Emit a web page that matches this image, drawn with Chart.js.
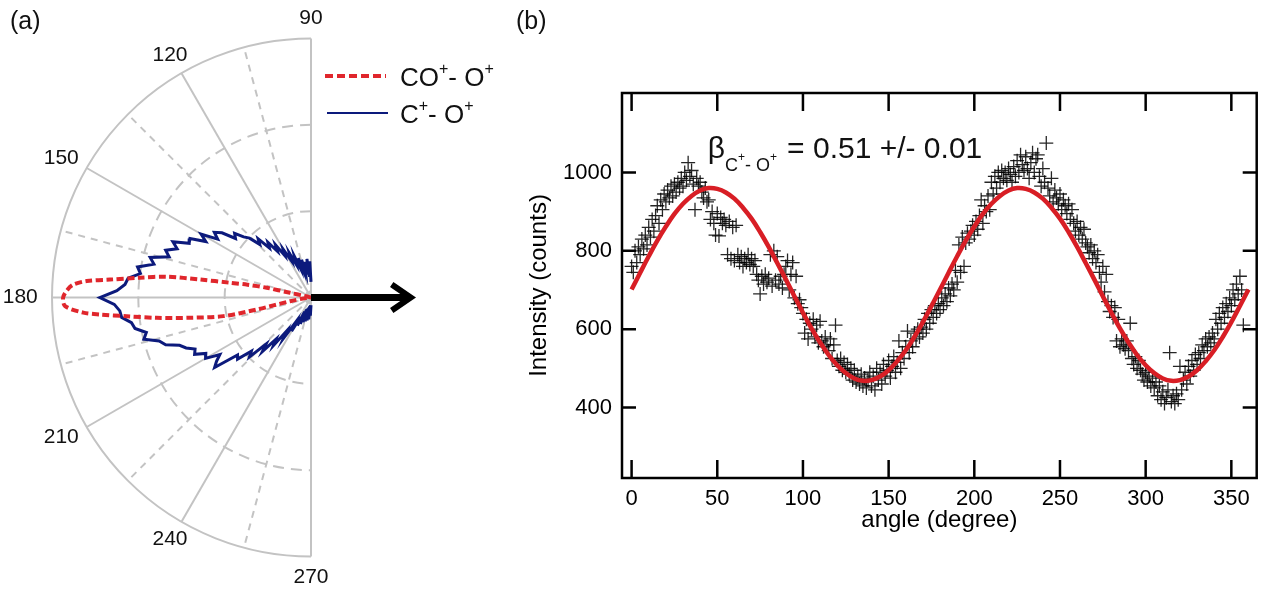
<!DOCTYPE html>
<html>
<head>
<meta charset="utf-8">
<script src="https://cdn.jsdelivr.net/npm/chart.js@4.4.1/dist/chart.umd.min.js"></script>
<style>
  html, body { margin: 0; padding: 0; background: #fff; }
  body { width: 1265px; height: 590px; position: relative; overflow: hidden; font-family: 'Liberation Sans', Arial, sans-serif; }
  #polar { position: absolute; left: 0; top: 0; }
  #scan { position: absolute; left: 505px; top: 0; }
  .tag { position: absolute; font-size: 25px; color: #111; line-height: 1; }
</style>
</head>
<body>
<canvas id="polar" width="505" height="590"></canvas>
<canvas id="scan" width="760" height="590"></canvas>
<div class="tag" style="left:10px;top:8px">(a)</div>
<div class="tag" style="left:516px;top:8px">(b)</div>
<script>
// ---- (a) polar distributions, angle in degrees, radius normalised to outer ring ----
const blueStart = 90, blueStep = 2
const blueR = [
  0.06, 0.14, 0.08, 0.15, 0.09, 0.14, 0.10, 0.15, 0.11, 0.16,
  0.12, 0.17, 0.14, 0.19, 0.16, 0.215, 0.19, 0.245, 0.22, 0.27,
  0.25, 0.305, 0.285, 0.33, 0.35, 0.385, 0.37, 0.425, 0.45, 0.425,
  0.49, 0.46, 0.52, 0.515, 0.575, 0.55, 0.59, 0.57, 0.64, 0.62,
  0.68, 0.665, 0.71, 0.72, 0.75, 0.815, 0.76, 0.74, 0.735, 0.70,
  0.69, 0.65, 0.665, 0.61, 0.59, 0.54, 0.52, 0.49, 0.50, 0.46,
  0.47, 0.415, 0.44, 0.46, 0.36, 0.37, 0.31, 0.33, 0.25, 0.28,
  0.21, 0.235, 0.16, 0.19, 0.115, 0.15, 0.085, 0.12, 0.06, 0.11,
  0.05, 0.10, 0.045, 0.095, 0.04, 0.09, 0.035, 0.085, 0.03, 0.07,
  0.03
]
const redAngles = [160, 166, 167.4, 167.6, 168.6, 169.7, 170.8, 171.8, 173.4, 174.9, 175.8, 176.9, 178.1,
  180, 182, 183.8, 184.6, 185.8, 187.5, 189.5, 192, 192.5, 190, 186, 180]
const redR = [0, 0.02, 0.083, 0.175, 0.25, 0.318, 0.434, 0.563, 0.665, 0.779, 0.868, 0.919, 0.94,
  0.957, 0.95, 0.881, 0.817, 0.715, 0.601, 0.474, 0.346, 0.215, 0.082, 0.02, 0]
const ringLevels = [1 / 3, 2 / 3, 1]
const spokeAngles = [90, 105, 120, 135, 150, 165, 180, 195, 210, 225, 240, 255, 270]
const angleLabels = [90, 120, 150, 180, 210, 240, 270]

// ---- (b) angular scan ----
const scanStart = 0, scanStep = 1
const scanCounts = [
  760, 745, 800, 770, 810, 790, 830, 805, 840, 815,
  860, 835, 880, 850, 890, 915, 870, 930, 905, 945,
  925, 955, 935, 965, 940, 970, 950, 975, 960, 985,
  965, 1000, 980, 1025, 990, 1005, 970, 905, 985, 965,
  975, 950, 935, 960, 925, 930, 880, 900, 870, 840,
  895, 838, 885, 870, 880, 865, 790, 875, 780, 860,
  775, 865, 790, 770, 785, 760, 780, 770, 790, 765,
  780, 760, 775, 740, 725, 690, 735, 715, 740, 720,
  730, 790, 710, 800, 725, 785, 715, 735, 705, 740,
  760, 775, 700, 740, 770, 680, 735, 665, 675, 655,
  640, 590, 625, 575, 615, 600, 625, 580, 610, 565,
  620, 570, 555, 580, 560, 545, 575, 525, 560,
  610, 520, 505, 525, 495, 515, 490, 510, 485, 500,
  470, 495, 465, 480, 460, 485, 455, 475, 450, 470,
  490, 455, 480, 445, 500, 470, 490, 460, 510, 480,
  495, 520, 475, 505, 530, 490, 515, 570, 500, 540,
  525, 555, 595, 540, 570, 555, 590, 575, 600, 580,
  605, 590, 625, 600, 640, 615, 650, 630, 660, 640,
  665, 650, 680, 660, 690, 670, 705, 685, 715, 700,
  750, 720, 815, 745, 835, 760, 820, 845, 830, 850,
  865, 840, 875, 855, 890, 930, 870, 915, 900, 940,
  905, 975, 945, 990, 960, 1000, 975, 1005, 985, 1000,
  980, 1010, 995, 975, 1015, 990, 1030, 1000, 1045, 1020,
  1005, 1040, 1010, 985, 1025, 1050, 1000, 1035, 1045,
  990, 965, 1010, 975, 1075, 960, 940, 985, 925, 955,
  935, 920, 945, 905, 930, 915, 895, 920, 880, 905,
  870, 850, 875, 840, 860, 830, 855, 820, 810, 795,
  815, 780, 800, 770, 790, 745, 720, 760, 695, 740,
  670, 645, 660, 630, 655, 570, 625, 555, 575, 560,
  550, 570, 545, 615, 525, 510, 530, 500, 520, 495,
  485, 470, 490, 465, 480, 455, 475, 450, 465, 430,
  455, 420, 440, 410, 425, 445, 540, 415, 430, 410,
  435, 420, 505, 445, 470, 490, 460, 505, 480, 520,
  495, 535, 510, 540, 525, 560, 545, 575, 555, 580,
  565, 590, 575, 625, 600, 640, 615, 655, 630, 665,
  645, 680, 660, 700, 675, 715, 690, 735, 700, 610
]
const fitAngles = [
  0, 5, 10, 15, 20, 25, 30, 35, 40, 45, 50, 55, 60, 65, 70, 75, 80, 85, 90,
  95, 100, 105, 110, 115, 120, 125, 130, 135, 140, 145, 150, 155, 160, 165, 170, 175, 180,
  185, 190, 195, 200, 205, 210, 215, 220, 225, 230, 235, 240, 245, 250, 255, 260, 265, 270,
  275, 280, 285, 290, 295, 300, 305, 310, 315, 320, 325, 330, 335, 340, 345, 350, 355, 360
]
const fitCounts = [
  701, 744, 786, 826, 862, 894, 920, 940, 954, 960, 958, 949, 933, 910, 882, 848, 810, 769, 727,
  684, 642, 602, 566, 534, 508, 488, 474, 468, 470, 479, 495, 518, 546, 580, 618, 659, 701,
  744, 786, 826, 862, 894, 920, 940, 954, 960, 958, 949, 933, 910, 882, 848, 810, 769, 727,
  684, 642, 602, 566, 534, 508, 488, 474, 468, 470, 479, 495, 518, 546, 580, 618, 659, 701
]
const xTicks = [0, 50, 100, 150, 200, 250, 300, 350]
const yTicks = [400, 600, 800, 1000]

Chart.defaults.font.family = "'Liberation Sans', Arial, sans-serif"
Chart.defaults.color = '#000'

const toXY = (deg, r) => ({
  x: r * Math.cos(deg * Math.PI / 180),
  y: r * Math.sin(deg * Math.PI / 180)
})

// draw a run of text pieces with sub/superscripts
function drawRuns(ctx, x, y, runs) {
  runs.forEach(run => {
    ctx.font = run.size + "px 'Liberation Sans', Arial, sans-serif"
    ctx.fillText(run.t, x, y + (run.dy || 0))
    x += ctx.measureText(run.t).width + (run.gap || 0)
  })
}

// ---------- panel (a) ----------
const polarR = 259
const polarDecor = {
  id: 'polarDecor',
  beforeDatasetsDraw(chart) {
    const { ctx, scales: { x, y } } = chart
    const cx = x.getPixelForValue(0), cy = y.getPixelForValue(0)
    const R = x.getPixelForValue(1) - cx
    ctx.save()
    ctx.strokeStyle = '#c3c3c3'
    ctx.lineWidth = 2
    ringLevels.forEach(k => {
      ctx.setLineDash(k < 1 ? [11, 7] : [])
      ctx.beginPath()
      ctx.arc(cx, cy, R * k, -Math.PI / 2, Math.PI / 2, true)
      ctx.stroke()
    })
    spokeAngles.forEach(a => {
      const rad = a * Math.PI / 180
      ctx.setLineDash(a % 30 ? [7, 6] : [])
      ctx.beginPath()
      ctx.moveTo(cx, cy)
      ctx.lineTo(cx + R * Math.cos(rad), cy - R * Math.sin(rad))
      ctx.stroke()
    })
    ctx.restore()
  },
  afterDatasetsDraw(chart) {
    const { ctx, scales: { x, y } } = chart
    const cx = x.getPixelForValue(0), cy = y.getPixelForValue(0)
    const R = x.getPixelForValue(1) - cx
    ctx.save()
    // angle labels
    ctx.fillStyle = '#111'
    ctx.font = "21px 'Liberation Sans', Arial, sans-serif"
    ctx.textAlign = 'center'
    ctx.textBaseline = 'middle'
    angleLabels.forEach(a => {
      const rad = a * Math.PI / 180
      const c = Math.cos(rad), s = Math.sin(rad)
      const w = ctx.measureText(String(a)).width
      const lx = cx + R * 1.055 * c + (w / 2) * c * Math.abs(c)
      const ly = cy - R * 1.055 * s - 6 * s
      ctx.fillText(String(a), lx, ly)
    })
    // polarisation arrow
    const tip = x.getPixelForValue(0.385)
    ctx.strokeStyle = '#000'
    ctx.lineWidth = 7
    ctx.beginPath()
    ctx.moveTo(cx, cy)
    ctx.lineTo(tip - 3, cy)
    ctx.stroke()
    ctx.lineWidth = 6
    ctx.lineJoin = 'miter'
    ctx.beginPath()
    ctx.moveTo(tip - 19, cy - 13)
    ctx.lineTo(tip, cy)
    ctx.lineTo(tip - 19, cy + 13)
    ctx.stroke()
    // legend
    ctx.textAlign = 'left'
    ctx.textBaseline = 'alphabetic'
    ctx.lineWidth = 4
    ctx.strokeStyle = '#e0262c'
    ctx.setLineDash([8, 4])
    ctx.beginPath()
    ctx.moveTo(325, 76)
    ctx.lineTo(386, 76)
    ctx.stroke()
    ctx.setLineDash([])
    ctx.lineWidth = 2
    ctx.strokeStyle = '#0c1a7c'
    ctx.beginPath()
    ctx.moveTo(327, 113)
    ctx.lineTo(388, 113)
    ctx.stroke()
    ctx.fillStyle = '#111'
    drawRuns(ctx, 400, 86, [
      { t: 'CO', size: 26 }, { t: '+', size: 16, dy: -12 }, { t: '- O', size: 26 }, { t: '+', size: 16, dy: -12 }
    ])
    drawRuns(ctx, 400, 123, [
      { t: 'C', size: 26 }, { t: '+', size: 16, dy: -12 }, { t: '- O', size: 26 }, { t: '+', size: 16, dy: -12 }
    ])
    ctx.restore()
  }
}

const polarCanvas = document.getElementById('polar')
new Chart(polarCanvas, {
  type: 'scatter',
  data: {
    datasets: [
      {
        label: 'CO+- O+',
        data: redAngles.map((a, i) => toXY(a, redR[i])),
        showLine: true,
        borderColor: '#e0262c',
        borderWidth: 4,
        borderDash: [7, 3.5],
        pointRadius: 0,
        tension: 0.3
      },
      {
        label: 'C+- O+',
        data: blueR.map((r, i) => toXY(blueStart + i * blueStep, r)),
        showLine: true,
        borderColor: '#0c1a7c',
        borderWidth: 3,
        pointRadius: 0,
        tension: 0
      }
    ]
  },
  options: {
    responsive: false,
    animation: false,
    layout: { padding: 0 },
    plugins: { legend: { display: false }, tooltip: { enabled: false } },
    scales: {
      x: { type: 'linear', display: false, min: -311 / polarR, max: (505 - 311) / polarR },
      y: { type: 'linear', display: false, min: -(590 - 297.5) / polarR, max: 297.5 / polarR }
    }
  },
  plugins: [polarDecor]
})

// ---------- panel (b) ----------
const frameTicks = {
  id: 'frameTicks',
  afterDraw(chart) {
    const { ctx, chartArea: a, scales: { x, y } } = chart
    ctx.save()
    ctx.strokeStyle = '#000'
    ctx.lineWidth = 2.5
    ctx.strokeRect(a.left, a.top, a.right - a.left, a.bottom - a.top)
    ctx.beginPath()
    x.ticks.forEach(t => {
      const px = x.getPixelForValue(t.value)
      ctx.moveTo(px, a.bottom); ctx.lineTo(px, a.bottom - 18)
      ctx.moveTo(px, a.top); ctx.lineTo(px, a.top + 18)
    })
    y.ticks.forEach(t => {
      const py = y.getPixelForValue(t.value)
      ctx.moveTo(a.left, py); ctx.lineTo(a.left + 14, py)
      ctx.moveTo(a.right, py); ctx.lineTo(a.right - 14, py)
    })
    ctx.stroke()
    // beta annotation
    ctx.fillStyle = '#111'
    const bx = x.getPixelForValue(44.5), by = y.getPixelForValue(1036)
    drawRuns(ctx, bx, by, [
      { t: '\u03b2', size: 30 },
      { t: 'C', size: 18, dy: 13 },
      { t: '+', size: 12, dy: 3 },
      { t: '- O', size: 18, dy: 13 },
      { t: '+', size: 12, dy: 3, gap: 10 },
      { t: '= 0.51 +/- 0.01', size: 30 }
    ])
    ctx.restore()
  }
}

new Chart(document.getElementById('scan'), {
  type: 'scatter',
  data: {
    datasets: [
      {
        label: 'fit',
        data: fitAngles.map((a, i) => ({ x: a, y: fitCounts[i] })),
        showLine: true,
        borderColor: '#d81e25',
        borderWidth: 4.5,
        pointRadius: 0,
        tension: 0.4
      },
      {
        label: 'C+- O+',
        data: scanCounts.map((v, i) => ({ x: scanStart + i * scanStep, y: v })),
        pointStyle: 'cross',
        pointRadius: 7,
        borderColor: 'rgba(0,0,0,0.85)',
        borderWidth: 1.3,
        showLine: false
      }
    ]
  },
  options: {
    responsive: false,
    animation: false,
    layout: { padding: { top: 93, right: 3, left: 0, bottom: 0 } },
    plugins: { legend: { display: false }, tooltip: { enabled: false } },
    scales: {
      x: {
        type: 'linear',
        min: -5.6,
        max: 364.8,
        afterFit: s => { s.height = 112 },
        afterBuildTicks: s => { s.ticks = xTicks.map(v => ({ value: v })) },
        grid: { display: false, drawTicks: false },
        border: { display: false },
        ticks: { padding: 8, font: { size: 22 }, maxRotation: 0, autoSkip: false, callback: v => String(v) },
        title: { display: true, text: 'angle (degree)', font: { size: 24 }, padding: { top: 0, bottom: 55 } }
      },
      y: {
        type: 'linear',
        min: 220,
        max: 1202.8,
        afterFit: s => { s.width = 117 },
        afterBuildTicks: s => { s.ticks = yTicks.map(v => ({ value: v })) },
        grid: { display: false, drawTicks: false },
        border: { display: false },
        ticks: { padding: 10, font: { size: 22 }, autoSkip: false, callback: v => String(v) },
        title: { display: true, text: 'Intensity (counts)', font: { size: 24 }, padding: { top: 20, bottom: 0 } }
      }
    }
  },
  plugins: [frameTicks]
})
</script>
</body>
</html>
